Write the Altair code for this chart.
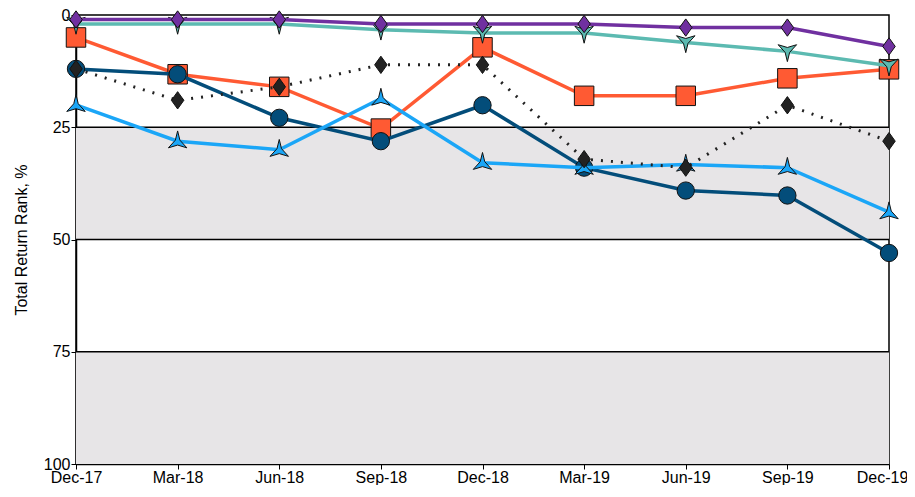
import altair as alt
import pandas as pd

dates = ["Dec-17", "Mar-18", "Jun-18", "Sep-18", "Dec-18", "Mar-19", "Jun-19", "Sep-19", "Dec-19"]

orange = [5.0, 13.2, 16.0, 25.3, 7.2, 18.0, 18.0, 14.1, 12.1]
navy = [12.0, 13.2, 22.9, 28.1, 20.1, 34.0, 39.1, 40.2, 53.0]
lightblue = [20.0, 28.1, 30.0, 18.6, 32.9, 34.0, 33.3, 34.0, 43.9]
black = [12.0, 19.0, 16.0, 11.1, 11.1, 32.1, 34.0, 20.1, 28.1]
teal = [2.0, 2.0, 2.0, 3.3, 4.0, 4.0, 6.1, 8.1, 11.3]
purple = [1.0, 1.0, 1.0, 2.0, 2.0, 2.0, 2.8, 2.8, 7.0]

band_start = [25, 75]
band_end = [50, 100]
quartile_lines = [25, 50, 75]
y_ticks = [0, 25, 50, 75, 100]

ARROW_UP = "M0,-1 L0.22,-0.1 L0.9,0.65 L0,0.38 L-0.9,0.65 L-0.22,-0.1 Z"
ARROW_DOWN = "M0,1 L0.22,0.1 L0.9,-0.65 L0,-0.38 L-0.9,-0.65 L-0.22,0.1 Z"
TALL_DIAMOND = "M0,-1 L0.72,0 L0,1 L-0.72,0 Z"

series = [
    # name, values, color, shape, size, dash
    ("orange", orange, "#ff5a33", "square", 380, None),
    ("navy", navy, "#034d7a", "circle", 300, None),
    ("lightblue", lightblue, "#1ba6f7", ARROW_UP, 420, None),
    ("black", black, "#222222", TALL_DIAMOND, 300, [2, 8]),
    ("teal", teal, "#5cbab1", ARROW_DOWN, 420, None),
    ("purple", purple, "#7030a0", TALL_DIAMOND, 300, None),
]

FONT = "Liberation Sans"

x_scale = alt.Scale(type="point", padding=0, domain=dates)
x_axis = alt.Axis(title=None, labelAngle=0, labelFontSize=16, labelFont=FONT,
                  labelColor="#000", tickColor="#000", tickSize=5,
                  domainColor="#000", domainWidth=1.5, labelPadding=0,
                  labelOffset={"condition": {"test": "datum.value == 'Dec-19'", "value": -7},
                               "value": 0})
y_scale = alt.Scale(domain=[0, 100], reverse=True, nice=False, zero=False)
y_axis = alt.Axis(values=y_ticks, title="Total Return Rank, %", grid=False,
                  labelFontSize=16, labelFont=FONT, labelColor="#000",
                  titleFontSize=16, titleFont=FONT, titleFontWeight="normal",
                  titleColor="#000", tickColor="#000", tickSize=5,
                  domainColor="#000", domainWidth=1.5, titlePadding=14,
                  labelPadding=1)

def X(field):
    return alt.X(field, sort=dates, scale=x_scale, axis=x_axis)

def Y(field):
    return alt.Y(field, scale=y_scale, axis=y_axis)

bands = alt.Chart(pd.DataFrame({"start": band_start, "end": band_end})).mark_rect(
    color="#e7e5e7"
).encode(
    y=Y("start:Q"),
    y2="end:Q",
)

rules = alt.Chart(pd.DataFrame({"value": quartile_lines})).mark_rule(
    color="#000", strokeWidth=1.5
).encode(y=Y("value:Q"))

layers = [bands, rules]
for name, vals, color, shape, size, dash in series:
    df = pd.DataFrame({"date": dates, "value": vals})
    line_kwargs = dict(color=color, strokeWidth=3.5)
    if dash:
        line_kwargs["strokeDash"] = dash
        line_kwargs["strokeWidth"] = 3
    line = alt.Chart(df).mark_line(**line_kwargs).encode(x=X("date:O"), y=Y("value:Q"))
    pts = alt.Chart(df).mark_point(
        shape=shape, size=size, filled=True, fill=color, stroke="#111",
        strokeWidth=1, opacity=1, fillOpacity=1
    ).encode(x=X("date:O"), y=Y("value:Q"))
    layers += [line, pts]

chart = alt.layer(*layers).properties(
    width=813,
    height=449,
    padding={"left": 68, "top": 7, "right": 18, "bottom": 21},
    autosize=alt.AutoSizeParams(type="none"),
    background="white",
).configure_view(
    stroke="#000", strokeWidth=1.5
)

chart.save("out.html", embed_options={"renderer": "svg", "actions": False})
